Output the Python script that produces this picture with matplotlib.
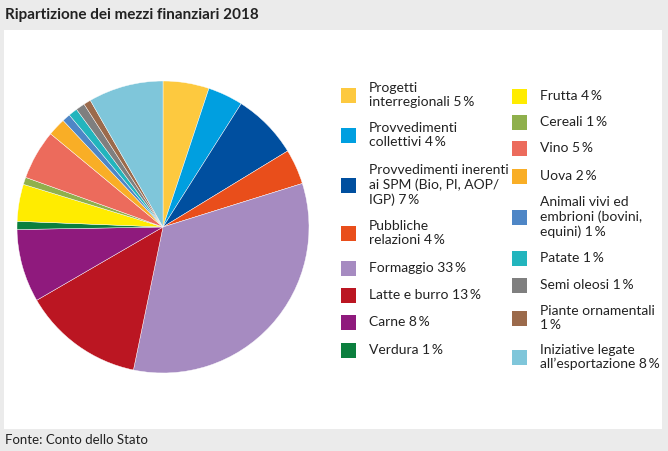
import matplotlib
matplotlib.use("Agg")
import matplotlib.pyplot as plt
from matplotlib.patches import Rectangle

# ---- data ----
names = [
    "Progetti\ninterregionali", "Provvedimenti\ncollettivi",
    "Provvedimenti inerenti\nai SPM (Bio, PI, AOP/\nIGP)", "Pubbliche\nrelazioni",
    "Formaggio", "Latte e burro", "Carne", "Verdura",
    "Frutta", "Cereali", "Vino", "Uova",
    "Animali vivi ed\nembrioni (bovini,\nequini)", "Patate", "Semi oleosi",
    "Piante ornamentali\n", "Iniziative legate\nall’esportazione",
]
shares = [5.1, 3.9, 7.3, 3.9, 33.1, 13.4, 8.1, 0.9, 4.1, 0.8, 5.5, 2.0, 0.9, 1.0, 1.0, 0.8, 8.3]
label_pct = [5, 4, 7, 4, 33, 13, 8, 1, 4, 1, 5, 2, 1, 1, 1, 1, 8]
colors = [
    "#fdc93f", "#009fe0", "#004f9f", "#e94e1b", "#a68bc1", "#bb1622", "#8f1a7d",
    "#0b7f3e", "#ffec00", "#8fb04c", "#ec6b5c", "#f9ae26", "#4e86c6", "#22b5bd",
    "#7f7f7f", "#9b6a4b", "#7fc6da",
]
title = "Ripartizione dei mezzi finanziari 2018"
source = "Fonte: Conto dello Stato"

W, H = 668, 451
fig = plt.figure(figsize=(W / 100, H / 100), dpi=100, facecolor="#ebebeb")

# overlay in pixel coordinates
ov = fig.add_axes([0, 0, 1, 1])
ov.set_xlim(0, W)
ov.set_ylim(H, 0)
ov.axis("off")
ov.add_patch(Rectangle((4, 30), 658, 399, facecolor="white", edgecolor="none"))

cond = ["Lato", "DejaVu Sans"]
ov.text(5, 15.5, title, fontsize=11, fontweight="bold", family=cond, va="center", ha="left", color="#222222")
ov.text(5, 440, source, fontsize=9.5, family=cond, va="center", ha="left", color="#222222")

# pie
cx, cy, r = 163, 227, 146
pax = fig.add_axes([(cx - r) / W, (H - cy - r) / H, 2 * r / W, 2 * r / H])
pax.pie(shares, colors=colors, startangle=90, counterclock=False,
        wedgeprops=dict(edgecolor="white", linewidth=0.3))
pax.set_xlim(-1, 1)
pax.set_ylim(-1, 1)
pax.set_aspect("equal")

# legend (layout)
col_x = [341, 512]
ys = [95, 135, 185, 233, 268, 295, 322, 350, 96, 122, 148, 176, 217, 258, 285, 318, 357]
for i, (nm, p, c) in enumerate(zip(names, label_pct, colors)):
    col = 0 if i < 8 else 1
    x = col_x[col]
    y = ys[i]
    ov.add_patch(Rectangle((x, y - 7.5), 15, 15, facecolor=c, edgecolor="none"))
    if nm.endswith("\n"):
        lab = nm + f"{p}\u2009%"
    else:
        lab = nm + f" {p}\u2009%"
    ov.text(x + 28, y, lab, fontsize=10, family=cond, va="center", ha="left",
            color="#222222", linespacing=1.2)

fig.savefig("out.png", dpi=100, facecolor=fig.get_facecolor())
